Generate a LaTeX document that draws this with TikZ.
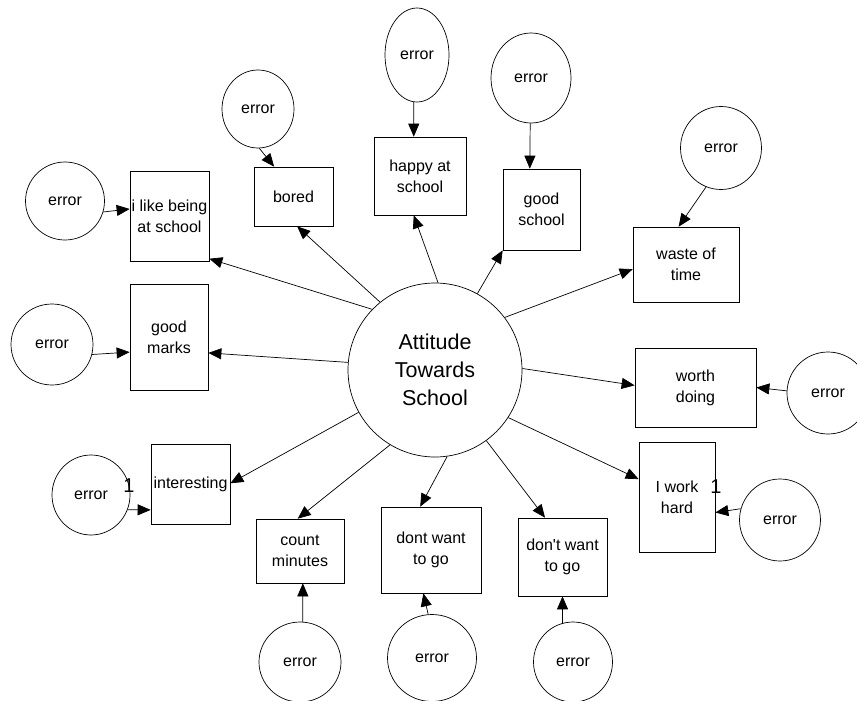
\documentclass[tikz,border=0pt]{standalone}
\usepackage{fontspec}
\setmainfont{Liberation Sans}[Ligatures=TeXOff]
\usetikzlibrary{arrows.meta,shapes.geometric}
\begin{document}
\begin{tikzpicture}[
    x=1pt, y=-1pt,
    latent/.style={circle, draw, line width=0.7pt, minimum size=174pt, inner sep=0pt, align=center, font=\fontsize{21.5}{28}\selectfont},
    item/.style={rectangle, draw, line width=0.7pt, inner sep=0pt, align=center, font=\fontsize{16}{21}\selectfont},
    errcirc/.style={ellipse, draw, line width=0.7pt, inner sep=0pt, font=\fontsize{16}{21}\selectfont},
    arrow/.style={-{Triangle[length=13pt,width=11pt]}, line width=0.7pt},
    fixlab/.style={inner sep=0pt, font=\fontsize{20}{24}\selectfont}
]
\useasboundingbox (0,0) rectangle (857,701);
% Latent factor
\node[latent] (att) at (435,370) {Attitude\\Towards\\School};
% Indicators
\node[item, minimum width=79pt, minimum height=90pt] (like) at (169.5,216) {i like being\\at school};
\node[item, minimum width=79pt, minimum height=59pt] (bored) at (293.5,196.5) {bored};
\node[item, minimum width=92pt, minimum height=78pt] (happy) at (420,176) {happy at\\school};
\node[item, minimum width=77pt, minimum height=81pt] (gschool) at (541.5,209.5) {good\\school};
\node[item, minimum width=106pt, minimum height=75pt] (waste) at (686,264.5) {waste of\\time};
\node[item, minimum width=121pt, minimum height=79pt] (worth) at (695.5,387.5) {worth\\doing};
\node[item, minimum width=76pt, minimum height=110pt] (hard) at (677,497) {I work\\hard};
\node[item, minimum width=89pt, minimum height=78pt] (dwant2) at (562.5,557) {don't want\\to go};
\node[item, minimum width=100pt, minimum height=86pt] (dwant1) at (431,550) {dont want\\to go};
\node[item, minimum width=88pt, minimum height=64pt] (count) at (300,551) {count\\minutes};
\node[item, minimum width=79pt, minimum height=80pt] (inter) at (190.5,484) {interesting};
\node[item, minimum width=78pt, minimum height=106pt] (marks) at (169,337) {good\\marks};
% Error terms
\node[errcirc, minimum width=79pt, minimum height=78pt] (e1) at (65,201) {error};
\node[errcirc, minimum width=72pt, minimum height=78pt] (e2) at (258,109) {error};
\node[errcirc, minimum width=64pt, minimum height=94pt] (e3) at (417,55) {error};
\node[errcirc, minimum width=80pt, minimum height=90pt] (e4) at (531,78) {error};
\node[errcirc, minimum width=81pt, minimum height=83pt] (e5) at (721,148) {error};
\node[errcirc, minimum width=82pt, minimum height=82pt] (e6) at (828,393) {error};
\node[errcirc, minimum width=81pt, minimum height=82pt] (e7) at (780,520) {error};
\node[errcirc, minimum width=79pt, minimum height=80pt] (e8) at (573,662) {error};
\node[errcirc, minimum width=89pt, minimum height=87pt] (e9) at (432,658) {error};
\node[errcirc, minimum width=82pt, minimum height=80pt] (e10) at (300,662) {error};
\node[errcirc, minimum width=78pt, minimum height=80pt] (e11) at (91,495) {error};
\node[errcirc, minimum width=82pt, minimum height=81pt] (e12) at (52,344.5) {error};
% Fixed loadings
\node[fixlab] (one1) at (129,486) {1};
\node[fixlab] (one2) at (716,487) {1};

% Loadings from the factor
\draw[arrow] (att.136) -- (like.-47);
\draw[arrow] (att.129) -- (bored.-83);
\draw[arrow] (att.88) -- (happy.-99);
\draw[arrow] (att.61) -- (gschool.south west);
\draw[arrow] (att.37) -- (waste.185);
\draw[arrow] (att.1) -- (worth.178);
\draw[arrow] (att.-33) -- (hard.155);
\draw[arrow] (att.-54) -- (dwant2.114);
\draw[arrow] (att.-82) -- (dwant1.104);
\draw[arrow] (att.-121) -- (count.94);
\draw[arrow] (att.209) -- (inter.1);
\draw[arrow] (att.175) -- (marks.-22);

% Error arrows
\draw[arrow] (e1.-16) -- (like.170);
\draw[arrow] (e2.-88) -- (bored.123);
\draw[arrow] (e3.-94) -- (happy.99);
\draw[arrow] (e4.-91) -- (gschool.106);
\draw[arrow] (e5.-111) -- (waste.101);
\draw[arrow] (e6.177) -- (worth.east);
\draw[arrow] (e7.164) -- (hard.-22);
\draw[arrow] (e8.105) -- (dwant2.south);
\draw[arrow] (e9.95) -- (dwant1.-100);
\draw[arrow] (e10.86) -- (count.-85);
\draw[arrow] (e11.-22) -- (inter.213);
\draw[arrow] (e12.-14) -- (marks.201);
\end{tikzpicture}
\end{document}
